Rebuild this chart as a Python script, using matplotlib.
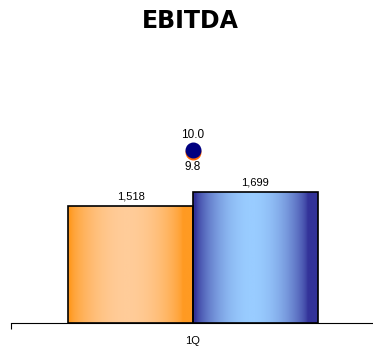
import matplotlib
matplotlib.use("Agg")
import matplotlib.pyplot as plt
import numpy as np
from matplotlib.colors import LinearSegmentedColormap

# data
categories = ["1Q"]
series_names = ["prev", "curr"]
ebitda = [1518, 1699]
ebitda_labels = ["1,518", "1,699"]
margin = [9.8, 10.0]
margin_labels = ["9.8", "10.0"]

edge_colors = ["#FF9A22", "#333399"]
mid_colors = ["#FFCC99", "#99CCFF"]
dot_colors = ["#FF6600", "#000080"]

fig = plt.figure(figsize=(3.73, 3.48), dpi=100)
ax = fig.add_axes([11 / 373, 25 / 348, 364 / 373, 263 / 348])
ax.set_xlim(-0.5, 0.5)
ax.set_ylim(0, 3411)

width = 0.343
offsets = [-width / 2, width / 2]

# horizontal gradient profile: dark edges, light centre
t = np.linspace(0, 1, 256)
prof = np.clip(np.sin(np.pi * np.clip((t - 0.02) / 0.9, 0, 1)) ** 0.7, 0, 1)
grad = prof[np.newaxis, :]

for i, v in enumerate(ebitda):
    x0 = offsets[i] - width / 2
    bar = ax.bar(offsets[i], v, width=width, color="none",
                 edgecolor="black", linewidth=1.2, zorder=3)[0]
    cmap = LinearSegmentedColormap.from_list("g%d" % i, [edge_colors[i], mid_colors[i]])
    im = ax.imshow(grad, cmap=cmap, aspect="auto", extent=[x0, x0 + width, 0, v],
                   zorder=2, vmin=0, vmax=1)
    im.set_clip_path(bar)
    ax.text(offsets[i], v + 60, ebitda_labels[i], ha="center", va="bottom",
            fontsize=8, family="Liberation Sans")

for s in ["top", "right", "left"]:
    ax.spines[s].set_visible(False)
ax.spines["bottom"].set_linewidth(0.8)
ax.set_yticks([])
ax.set_xticks([0])
ax.set_xticklabels(categories, fontsize=8, family="Liberation Sans")
ax.tick_params(axis="x", length=0, pad=9)
ax.set_xticks([-0.5], minor=True)
ax.tick_params(axis="x", which="minor", length=4, width=0.8)

# margin dots on secondary axis
ax2 = ax.twinx()
ax2.set_ylim(-3.84, 17.2)
ax2.axis("off")
ax2.plot([0], [margin[0]], "o", color=dot_colors[0], markersize=10.5, zorder=4)
ax2.plot([0], [margin[1]], "o", color=dot_colors[1], markersize=10.5, zorder=5)
ax2.text(0, margin[1] + 0.75, margin_labels[1], ha="center", va="bottom",
         fontsize=8.5, family="Liberation Sans")
ax2.text(0, margin[0] - 0.7, margin_labels[0], ha="center", va="top",
         fontsize=8.5, family="Liberation Sans")

fig.text(0.51, 0.94, "EBITDA", ha="center", va="center", fontsize=17,
         fontweight="heavy", family="DejaVu Sans")

fig.savefig("out.png", dpi=100)
